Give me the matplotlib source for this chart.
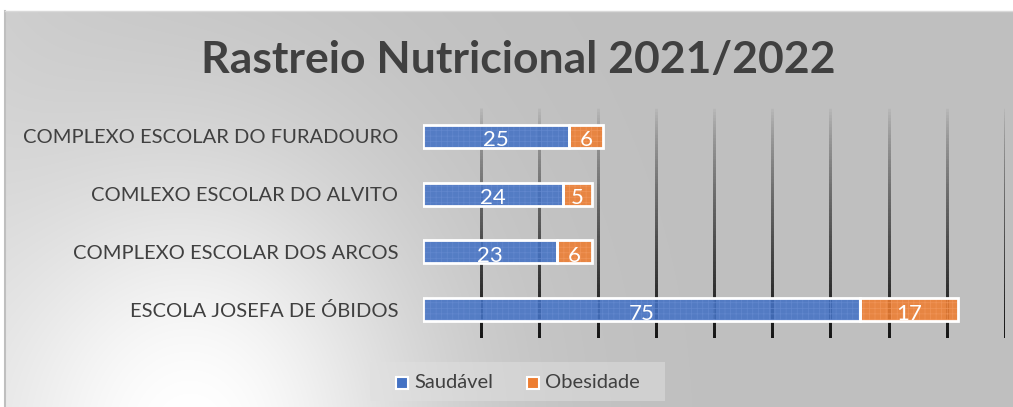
import numpy as np
import matplotlib
matplotlib.use("Agg")
import matplotlib.pyplot as plt
from matplotlib.collections import LineCollection
from matplotlib.patches import Rectangle

schools = ["COMPLEXO ESCOLAR DO FURADOURO", "COMLEXO ESCOLAR DO ALVITO",
           "COMPLEXO ESCOLAR DOS ARCOS", "ESCOLA JOSEFA DE ÓBIDOS"]
saudavel = [25, 24, 23, 75]
obesidade = [6, 5, 6, 17]
series_names = ["Saudável", "Obesidade"]
grid_ticks = list(range(10, 101, 10))

plt.rcParams['font.family'] = ['Lato', 'DejaVu Sans']
plt.rcParams['hatch.linewidth'] = 0.5
W, H = 1013, 407
fig = plt.figure(figsize=(W / 100, H / 100), dpi=100)
fig.patch.set_facecolor('white')

# background: radial light spot near the bottom-left, gray elsewhere
bg = fig.add_axes([5 / W, 0, 1 - 5 / W, (H - 11) / H])
yy, xx = np.mgrid[11:H, 5:W]
d = np.sqrt(((xx - 200) / 420) ** 2 + ((yy - 440) / 520) ** 2)
val = 0.75 + 0.24 * np.exp(-(d / 0.55) ** 2) + 0.05 * np.exp(-xx / 140)
val = np.clip(val, 0, 1)
bg.imshow(np.dstack([val, val, val]), aspect='auto', extent=[0, 1, 0, 1],
          interpolation='bilinear')
bg.set_xlim(0, 1)
bg.set_ylim(0, 1)
bg.axis('off')
fig.add_artist(plt.Line2D([4.5 / W, 4.5 / W], [0, (H - 10.5) / H], color='#bfbfbf', lw=1.5))
fig.add_artist(plt.Line2D([4.5 / W, 1], [(H - 10.5) / H] * 2, color='#d9d9d9', lw=1))

ax = fig.add_axes([423 / W, 1 - 338.4 / H, 582 / W, 230.8 / H])
ax.patch.set_alpha(0)
ax.set_xlim(0, 100)
ax.set_ylim(3.5, -0.5)
y = np.arange(len(schools))

# gridlines fading from background gray at the top to black at the bottom
nseg = 80
edges = np.linspace(-0.5, 3.5, nseg + 1)
f = np.linspace(0, 1, nseg)
g = 0.74 - 0.66 * f ** 0.75
for gx in grid_ticks:
    segs = [[(gx, edges[i]), (gx, edges[i + 1])] for i in range(nseg)]
    cols = [(c, c, c, 1) for c in g]
    ax.add_collection(LineCollection(segs, colors=cols, linewidths=2,
                                     capstyle='projecting', zorder=1))

colors = ['#4472C4', '#ED7D31']
hatch_cols = ['#6489cf', '#f1965a']
for vals, left, col, hc in [(saudavel, [0] * 4, colors[0], hatch_cols[0]),
                            (obesidade, saudavel, colors[1], hatch_cols[1])]:
    ax.barh(y, vals, left=left, height=0.4, color=col, alpha=0.88,
            edgecolor=hc, hatch='+++', linewidth=0, zorder=2)
    ax.barh(y, vals, left=left, height=0.4, fill=False, edgecolor='white',
            linewidth=2, zorder=3)

for i in range(len(schools)):
    ax.text(saudavel[i] / 2, y[i] + 0.07, str(saudavel[i]), ha='center', va='center',
            color='white', fontsize=16, zorder=4)
    ax.text(saudavel[i] + obesidade[i] / 2, y[i] + 0.07, str(obesidade[i]), ha='center',
            va='center', color='white', fontsize=16, zorder=4)

ax.set_yticks(y)
ax.set_yticklabels(schools, fontsize=14.5, color='#404040')
ax.tick_params(axis='y', length=0, pad=18)
ax.set_xticks([])
for sp in ax.spines.values():
    sp.set_visible(False)

fig.text(518 / W, 1 - 60 / H, "Rastreio Nutricional 2021/2022", ha='center', va='center',
         fontsize=32, fontweight='bold', color='#404040')

# legend
lb = (370 / W, 1 - 401 / H, 295 / W, 39 / H)
fig.add_artist(Rectangle(lb[:2], lb[2], lb[3], transform=fig.transFigure,
                         facecolor=(0.88, 0.88, 0.88, 0.5), edgecolor='none'))
leg_x = [396, 527]
for name, col, lx in zip(series_names, colors, leg_x):
    fig.add_artist(Rectangle((lx / W, 1 - 389 / H), 12 / W, 12 / H, transform=fig.transFigure,
                             facecolor=col, edgecolor='white', linewidth=1.5))
    fig.text((lx + 18) / W, 1 - 383 / H, name, ha='left', va='center', fontsize=14.5,
             color='#404040')

fig.savefig('out.png', dpi=100)
